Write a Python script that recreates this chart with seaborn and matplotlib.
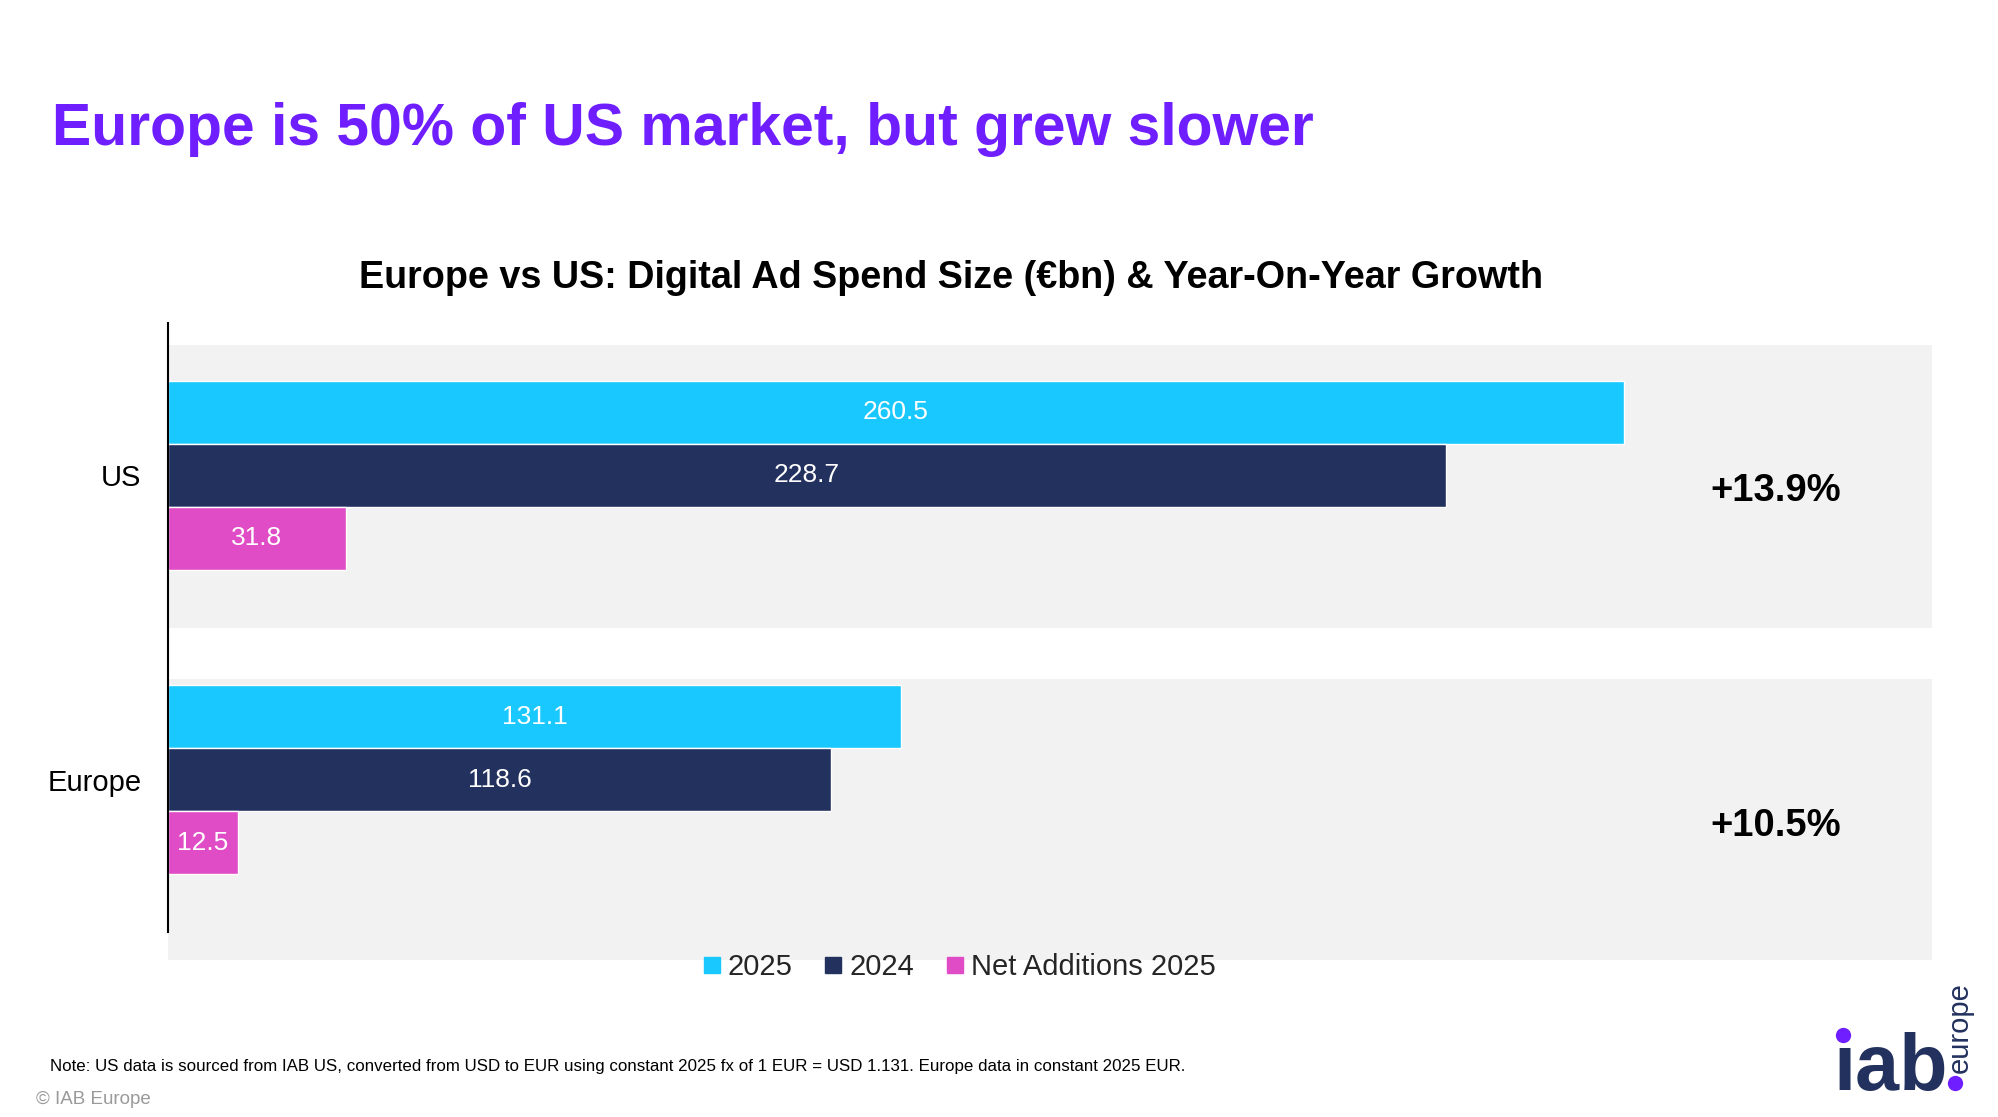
import pandas as pd
import seaborn as sns
import matplotlib.pyplot as plt
from matplotlib.lines import Line2D

# Data
regions = ["US", "Europe"]
series = ["2025", "2024", "Net Additions 2025"]
spend_2025 = [260.5, 131.1]
spend_2024 = [228.7, 118.6]
net_additions = [31.8, 12.5]
growth_labels = ["+13.9%", "+10.5%"]

colors = ["#19C8FF", "#22315E", "#E04CC5"]
band_color = "#F2F2F2"

df = pd.DataFrame({
    "region": regions * 3,
    "series": [s for s in series for _ in regions],
    "value": spend_2025 + spend_2024 + net_additions,
})

sns.set_style("white")
plt.rcParams["font.family"] = ["Liberation Sans", "DejaVu Sans"]

fig = plt.figure(figsize=(19.99, 11.17), dpi=100)
W, H = 1999, 1117
ax = fig.add_axes([168 / W, 1 - 932 / H, (1932 - 168) / W, 609 / H])

sns.barplot(data=df, y="region", x="value", hue="series", hue_order=series,
            palette=colors, orient="h", width=0.62, saturation=1,
            legend=False, ax=ax, zorder=2)

ax.set_xlim(0, 315.6)
ax.set_ylim(1.5, -0.5)

# grey background bands behind each group
ax.axhspan(-0.428, 0.503, color=band_color, zorder=0, lw=0, clip_on=False)
ax.axhspan(0.67, 1.592, color=band_color, zorder=0, lw=0, clip_on=False)

for cont in ax.containers:
    ax.bar_label(cont, fmt="%.1f", label_type="center", color="white",
                 fontsize=19)

# growth labels at right
for i, lab in enumerate(growth_labels):
    y = i + (0.053 if i == 0 else 0.153)
    ax.text(287.7, y, lab, ha="center", va="center", fontsize=27.5,
            fontweight="bold", color="black")

for s in ["top", "right", "bottom"]:
    ax.spines[s].set_visible(False)
ax.spines["left"].set_color("black")
ax.spines["left"].set_linewidth(1.5)
ax.spines["left"].set_zorder(3)
ax.set_xticks([])
ax.set_xlabel("")
ax.set_ylabel("")
ax.tick_params(axis="y", length=0, pad=19, labelsize=21, labelcolor="black")
ax.patch.set_alpha(0)

# legend
handles = [Line2D([0], [0], marker="s", color="none", markerfacecolor=c,
                  markeredgecolor=c, markersize=11) for c in colors]
fig.legend(handles, series, loc="center", bbox_to_anchor=(958 / W, 1 - 967 / H),
           ncol=3, frameon=False, fontsize=21, handlelength=0.8,
           handletextpad=0.15, columnspacing=1.0)

# titles
fig.text(52 / W, 1 - 145 / H, "Europe is 50% of US market, but grew slower",
         fontsize=42.4, fontweight="bold", color="#6E1EFF", va="baseline")
fig.text(951 / W, 1 - 288 / H,
         "Europe vs US: Digital Ad Spend Size (\u20acbn) & Year-On-Year Growth",
         fontsize=27.2, fontweight="bold", color="black", ha="center",
         va="baseline")

# footnotes
fig.text(50 / W, 1 - 1071 / H,
         "Note: US data is sourced from IAB US, converted from USD to EUR using "
         "constant 2025 fx of 1 EUR = USD 1.131. Europe data in constant 2025 EUR.",
         fontsize=12.15, color="black", va="baseline")
fig.text(36 / W, 1 - 1104 / H, "\u00a9 IAB Europe", fontsize=13.5,
         color="#9A9A9A", va="baseline")

# iab europe logo
navy = "#22315E"
purple = "#6E1EFF"
fig.text(1833 / W, 1 - 1090 / H, "\u0131ab", fontsize=57, fontweight="bold",
         color=navy, va="baseline")
fig.text(1960 / W, 1 - 1073 / H, "europe", fontsize=21, color=navy,
         rotation=90, ha="center", va="bottom")
fig.add_artist(Line2D([1843 / W], [1 - 1035 / H], marker="o", markersize=10,
                      color=purple, transform=fig.transFigure))
fig.add_artist(Line2D([1955 / W], [1 - 1083 / H], marker="o", markersize=10,
                      color=purple, transform=fig.transFigure))

fig.savefig("out.png", dpi=100)
